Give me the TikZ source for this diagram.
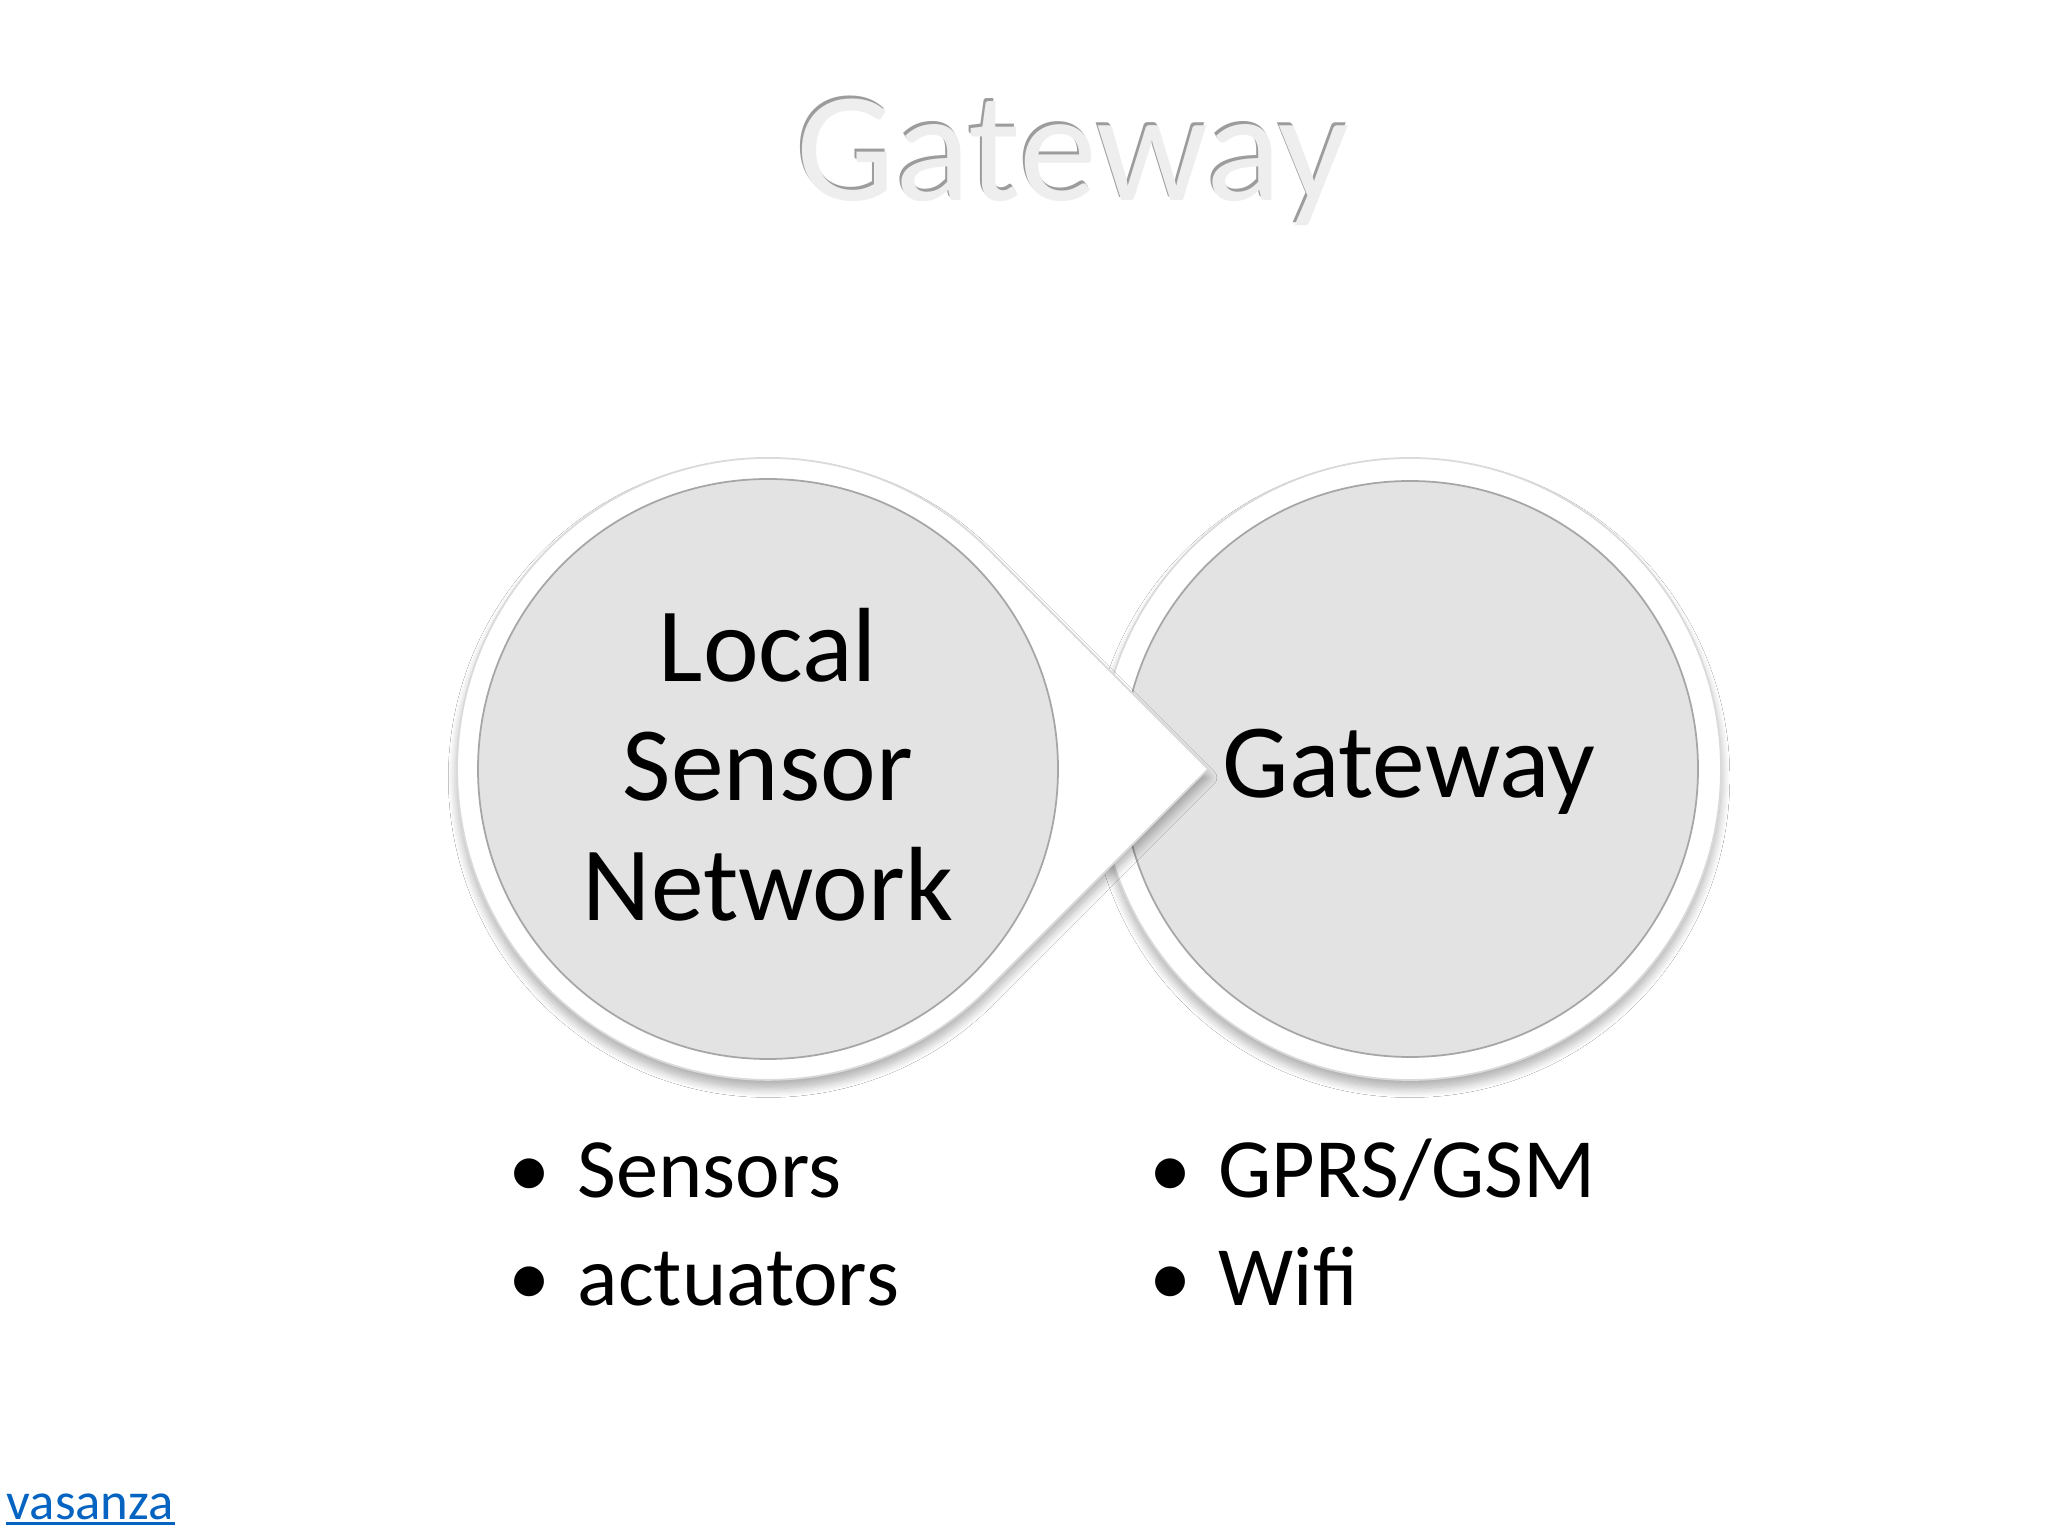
\documentclass[tikz,border=0pt]{standalone}
\usepackage{fontspec}
\setmainfont{Carlito}
\usetikzlibrary{shadows.blur}
\definecolor{discgray}{HTML}{E3E3E3}
\definecolor{discline}{HTML}{A6A6A6}
\definecolor{ringline}{HTML}{DADADA}
\definecolor{linkblue}{HTML}{0563C1}
\definecolor{titlefill}{HTML}{EEEEEE}
\definecolor{titledark}{HTML}{9C9C9C}
\begin{document}
\begin{tikzpicture}[x=0.01cm,y=0.01cm,
  ring/.style={fill=white, draw=ringline, line width=0.5pt,
    blur shadow={shadow xshift=0pt, shadow yshift=-2.5pt, shadow blur radius=2.5pt, shadow blur steps=10, shadow opacity=32}},
  disc/.style={fill=discgray, draw=discline, line width=0.5pt},
  bigtxt/.style={anchor=base, inner sep=0pt, font=\fontsize{30}{34}\selectfont},
  listtxt/.style={anchor=base west, inner sep=0pt, font=\fontsize{24}{28}\selectfont},
  bullettxt/.style={anchor=base, inner sep=0pt, font=\fontsize{24}{28}\selectfont},
  titletxt/.style={anchor=base, inner sep=0pt, font=\fontsize{44.5}{50}\selectfont}
]
\useasboundingbox (0,0) rectangle (2048,1536);
\fill[white] (0,0) rectangle (2048,1536);

% title with inner-shadow look
\node[titletxt, text=titledark] (titleS) at (1071,1338) {Gateway};
\node[titletxt, text=titlefill] (title) at (1073,1335) {Gateway};

% right circle (drawn first, under the arrow shape)
\path[ring] (1410,767) circle[radius=311];
\path[disc] (1410,767) circle[radius=288];

% left teardrop pointing right
\path[ring] (1208,767) -- (988,987) arc[start angle=45, end angle=315, radius=311] -- cycle;
\path[disc] (768,767) circle[radius=290];

% circle texts
\node[bigtxt] (l1) at (768,854) {Local};
\node[bigtxt] (l2) at (768,735) {Sensor};
\node[bigtxt] (l3) at (768,615) {Network};
\node[bigtxt] (gw) at (1409,738) {Gateway};

% bullet lists
\node[bullettxt] (b1) at (530,338) {•};
\node[listtxt] (t1) at (577,338) {Sensors};
\node[bullettxt] (b2) at (530,230) {•};
\node[listtxt] (t2) at (577,230) {actuators};
\node[bullettxt] (b3) at (1171,338) {•};
\node[listtxt] (t3) at (1218,338) {GPRS/GSM};
\node[bullettxt] (b4) at (1171,230) {•};
\node[listtxt] (t4) at (1218,230) {Wifi};

% link
\node[anchor=base west, inner sep=0pt, text=linkblue, font=\fontsize{15}{18}\selectfont] (link) at (6,17) {vasanza};
\draw[linkblue, line width=0.9pt] (link.south west) ++(0,-3) coordinate (ul1) -- (ul1 -| link.south east);
\end{tikzpicture}
\end{document}
